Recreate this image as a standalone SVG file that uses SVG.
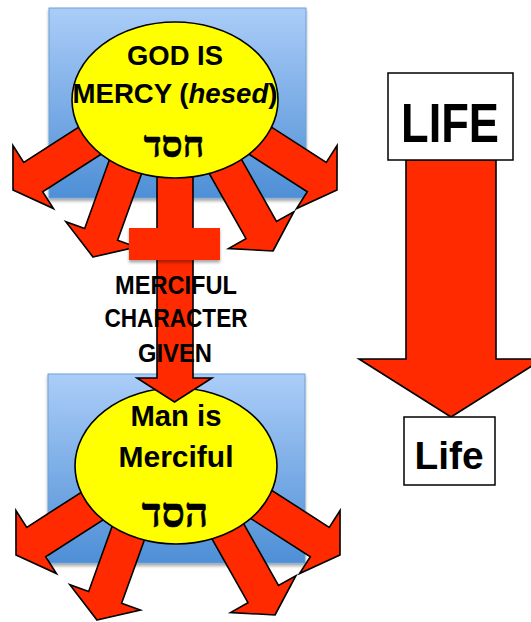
<svg xmlns="http://www.w3.org/2000/svg" xmlns:xlink="http://www.w3.org/1999/xlink" width="531" height="622" viewBox="0 0 531 622">
<style>
.bg{fill:url(#blue);stroke:#6d9fd6;stroke-width:1}
.arw{fill:#ff2a00;stroke:#000;stroke-width:1.6;stroke-linejoin:miter}
.ell{fill:#ffff00;stroke:#000;stroke-width:1.6}
.t{font-family:"Liberation Sans",Arial,sans-serif;font-weight:bold;fill:#000;text-anchor:middle}
.heb{font-family:"Liberation Serif","DejaVu Serif",serif;font-weight:bold;fill:#000;text-anchor:middle;stroke:#000;stroke-width:0.6}
.box{fill:#fff;stroke:#000;stroke-width:1.5}
</style>
<defs>
<linearGradient id="blue" x1="0" y1="0" x2="0" y2="1">
<stop offset="0" stop-color="#abcdf8"/>
<stop offset="1" stop-color="#4e8fd6"/>
</linearGradient>
<filter id="sh" x="-10%" y="-10%" width="120%" height="125%">
<feDropShadow dx="0" dy="2.5" stdDeviation="1.5" flood-color="#000" flood-opacity="0.35"/>
</filter>
<path id="arr" d="M0,0 L-24,-37.5 L-24,-17.5 L-125,-17.5 L-125,17.5 L-24,17.5 L-24,37.5 Z"/>
</defs>

<g id="god-box">
<rect class="bg" x="49" y="8" width="257" height="190" filter="url(#sh)"/>
</g>
<g id="man-box">
<rect class="bg" x="48" y="374" width="257" height="189" filter="url(#sh)"/>
</g>

<g id="connectors">
<g id="god-rays">
<use href="#arr" class="arw" transform="translate(13,190) rotate(147.3)"/>
<use href="#arr" class="arw" transform="translate(93,257) rotate(109.8)"/>
<use href="#arr" class="arw" transform="translate(273,251) rotate(60.6)"/>
<use href="#arr" class="arw" transform="translate(337,190) rotate(32.7)"/>
</g>
<g id="man-rays">
<use href="#arr" class="arw" transform="translate(16,555) rotate(147.3)"/>
<use href="#arr" class="arw" transform="translate(97,620) rotate(109.8)"/>
<use href="#arr" class="arw" transform="translate(275,615) rotate(60.6)"/>
<use href="#arr" class="arw" transform="translate(340,555) rotate(32.7)"/>
</g>
</g>

<g id="man">
<ellipse class="ell" cx="176" cy="466" rx="101" ry="78"/>
</g>

<g id="given-arrow">
<polygon class="arw" points="157,150 193,150 193,378 212,378 174.5,402 137,378 157,378"/>
<rect x="129" y="228" width="91" height="32" fill="#ff2a00" filter="url(#sh)"/>
</g>

<g id="god">
<ellipse class="ell" cx="175" cy="100" rx="103" ry="78"/>
<text class="t" x="175" y="65" font-size="28" textLength="96" lengthAdjust="spacingAndGlyphs">GOD IS</text>
<text class="t" x="175" y="103" font-size="28" textLength="205" lengthAdjust="spacingAndGlyphs">MERCY (<tspan font-style="italic">hesed</tspan>)</text>
<text class="heb" x="174" y="157" font-size="37">חסד</text>
</g>

<g id="given-label">
<text class="t" x="176" y="294" font-size="25" textLength="122" lengthAdjust="spacingAndGlyphs">MERCIFUL</text>
<text class="t" x="176" y="327" font-size="25" textLength="143" lengthAdjust="spacingAndGlyphs">CHARACTER</text>
<text class="t" x="175" y="362" font-size="25" textLength="74" lengthAdjust="spacingAndGlyphs">GIVEN</text>
</g>

<g id="man-text">
<text class="t" x="176" y="426" font-size="29" textLength="91" lengthAdjust="spacingAndGlyphs">Man is</text>
<text class="t" x="176" y="467" font-size="29" textLength="115" lengthAdjust="spacingAndGlyphs">Merciful</text>
<text class="heb" x="175" y="527" font-size="41">הסד</text>
</g>

<g id="life-arrow">
<polygon class="arw" points="406,160 496,160 496,359 543,359 451,417 359,359 406,359"/>
</g>

<g id="LIFE">
<rect class="box" x="388" y="73" width="125" height="87"/>
<text class="t" x="450" y="142" font-size="56" textLength="98" lengthAdjust="spacingAndGlyphs">LIFE</text>
</g>

<g id="Life">
<rect class="box" x="404" y="417" width="91" height="68"/>
<text class="t" x="449" y="469" font-size="39" textLength="69" lengthAdjust="spacingAndGlyphs">Life</text>
</g>
</svg>
